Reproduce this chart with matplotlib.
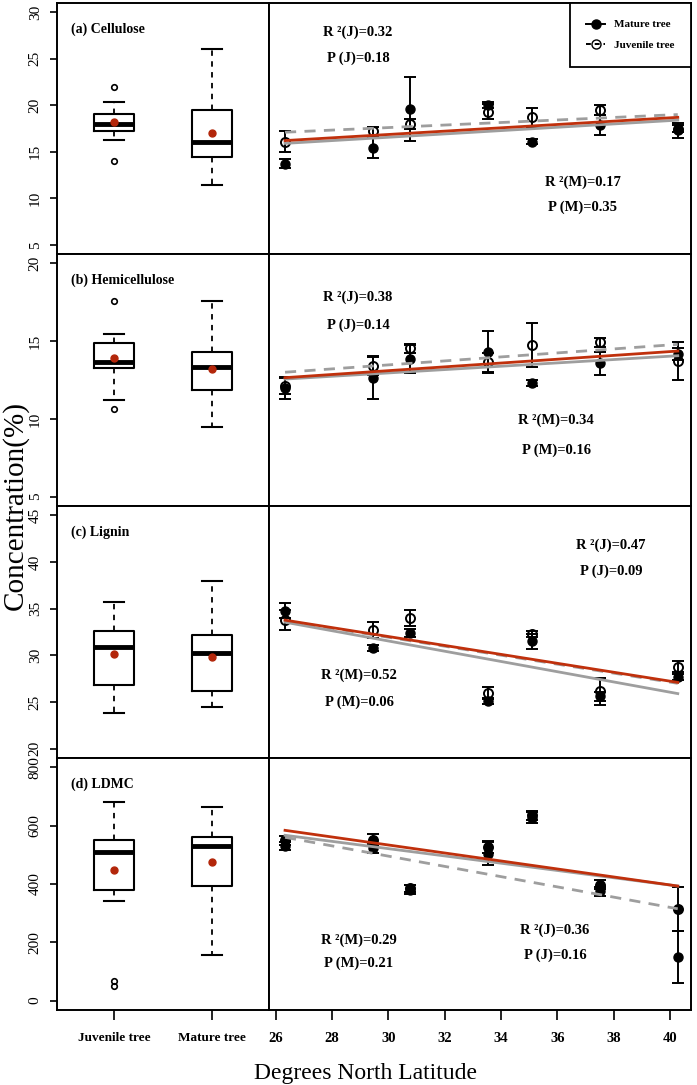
import matplotlib.pyplot as plt
from matplotlib.lines import Line2D

plt.rcParams['font.family'] = ['Liberation Serif', 'DejaVu Serif']

# ---- data ----
latitude = [26.33, 29.46, 30.77, 33.54, 35.11, 37.5, 40.28]

panel_labels = ["(a) Cellulose", "(b) Hemicellulose", "(c) Lignin", "(d) LDMC"]
y_limits = [(4, 31), (4.4, 20.6), (19, 46), (-32, 832)]
y_ticks = [
    [5, 10, 15, 20, 25, 30],
    [5, 10, 15, 20],
    [20, 25, 30, 35, 40, 45],
    [0, 200, 400, 600, 800],
]

mature_a = [13.7, 15.4, 19.6, 20.0, 16.1, 17.9, 17.3]
mature_err_a = [0.5, 1.1, 3.4, 0.3, 0.3, 1.1, 0.8]
juvenile_a = [16.1, 17.2, 18.0, 19.3, 18.7, 19.5, 17.5]
juvenile_err_a = [1.1, 0.5, 0.5, 0.8, 1.0, 0.5, 0.4]

mature_b = [12.0, 12.65, 13.85, 14.3, 12.33, 13.57, 14.17]
mature_err_b = [0.7, 1.35, 0.9, 1.33, 0.2, 0.75, 0.4]
juvenile_b = [12.1, 13.42, 14.53, 13.63, 14.74, 14.92, 13.72]
juvenile_err_b = [0.5, 0.6, 0.3, 0.6, 1.4, 0.3, 1.25]

mature_c = [34.8, 30.8, 32.4, 25.1, 31.5, 25.6, 27.7]
mature_err_c = [0.8, 0.3, 0.4, 0.3, 0.8, 0.5, 0.3]
juvenile_c = [33.77, 32.7, 34.0, 25.97, 32.3, 26.15, 28.8]
juvenile_err_c = [1.07, 0.85, 0.9, 0.65, 0.3, 1.45, 0.6]

mature_d = [530, 522, 380, 504, 628, 375, 150]
mature_err_d = [15, 15, 15, 40, 20, 15, 88]
juvenile_d = [550, 550, 385, 527, 635, 398, 315]
juvenile_err_d = [15, 20, 12, 20, 15, 15, 75]

mature_series = [mature_a, mature_b, mature_c, mature_d]
mature_errors = [mature_err_a, mature_err_b, mature_err_c, mature_err_d]
juvenile_series = [juvenile_a, juvenile_b, juvenile_c, juvenile_d]
juvenile_errors = [juvenile_err_a, juvenile_err_b, juvenile_err_c, juvenile_err_d]
juvenile_filled = [False, False, False, True]

# fitted lines, value at first and last latitude
fit_red = [[16.2, 18.7], [12.65, 14.36], [33.77, 27.1], [584, 393]]
fit_grey = [[15.9, 18.4], [12.56, 14.06], [33.55, 25.9], [567, 393]]
fit_dashed = [[17.1, 19.0], [13.0, 14.79], [33.7, 27.0], [560, 315]]

# boxplot summaries: juvenile, mature
box_juv_q1 = [17.18, 13.29, 26.87, 381]
box_juv_med = [17.97, 13.63, 30.87, 509]
box_juv_q3 = [19.08, 14.89, 32.66, 551]
box_juv_lo = [16.22, 11.24, 23.79, 341]
box_juv_hi = [20.4, 15.43, 35.67, 680]
box_juv_mean = [18.15, 13.89, 30.09, 448]
box_juv_out = [[22.0, 14.0], [17.56, 10.62], [], [50, 68]]

box_mat_q1 = [14.47, 11.84, 26.19, 392]
box_mat_med = [16.0, 13.35, 30.23, 529]
box_mat_q3 = [19.5, 14.27, 32.23, 560]
box_mat_lo = [11.45, 9.49, 24.47, 158]
box_mat_hi = [26.0, 17.58, 37.92, 664]
box_mat_mean = [17.0, 13.22, 29.8, 474]
box_mat_out = [[], [], [], []]

group_names = ["Juvenile tree", "Mature tree"]
lat_ticks = [26, 28, 30, 32, 34, 36, 38, 40]

# stats text: (label, x px, y px)
stats_text = [
    [("R ²(J)=0.32", 358, 32), ("P (J)=0.18", 358, 58),
     ("R ²(M)=0.17", 583, 182), ("P (M)=0.35", 583, 207)],
    [("R ²(J)=0.38", 358, 297), ("P (J)=0.14", 358, 325),
     ("R ²(M)=0.34", 556, 420), ("P (M)=0.16", 556, 450)],
    [("R ²(J)=0.47", 611, 545), ("P (J)=0.09", 611, 571),
     ("R ²(M)=0.52", 359, 675), ("P (M)=0.06", 359, 702)],
    [("R ²(M)=0.29", 359, 940), ("P (M)=0.21", 359, 963),
     ("R ²(J)=0.36", 555, 930), ("P (J)=0.16", 555, 955)],
]

# ---- layout (pixels) ----
W, H = 697, 1085
left_x0, left_x1, right_x1 = 57, 269, 691
panel_tops = [3, 254, 506, 758]
panel_bottoms = [254, 506, 758, 1010]

RED = "#c0300c"
MEAN_RED = "#b3260a"
GREY = "#9e9e9e"

fig = plt.figure(figsize=(W / 100, H / 100), dpi=100)


def px_rect(x0, x1, top, bottom):
    return [x0 / W, 1 - bottom / H, (x1 - x0) / W, (bottom - top) / H]


for i in range(4):
    top, bottom = panel_tops[i], panel_bottoms[i]
    axl = fig.add_axes(px_rect(left_x0, left_x1, top, bottom))
    axr = fig.add_axes(px_rect(left_x1, right_x1, top, bottom))

    # -- box plots --
    stats = [
        dict(med=box_juv_med[i], q1=box_juv_q1[i], q3=box_juv_q3[i],
             whislo=box_juv_lo[i], whishi=box_juv_hi[i], fliers=box_juv_out[i]),
        dict(med=box_mat_med[i], q1=box_mat_q1[i], q3=box_mat_q3[i],
             whislo=box_mat_lo[i], whishi=box_mat_hi[i], fliers=box_mat_out[i]),
    ]
    axl.bxp(
        stats, positions=[1, 2], widths=0.4, capwidths=0.2,
        boxprops=dict(color="black", lw=1.5),
        whiskerprops=dict(color="black", lw=1.3, ls=(0, (3, 3))),
        capprops=dict(color="black", lw=1.5),
        medianprops=dict(color="black", lw=3.5, solid_capstyle="butt"),
        flierprops=dict(marker="o", mfc="none", mec="black", ms=4, mew=1.2),
    )
    axl.plot([1, 2], [box_juv_mean[i], box_mat_mean[i]], "o",
             color=MEAN_RED, ms=5, zorder=5)
    axl.set_xlim(0.42, 2.58)
    axl.set_ylim(*y_limits[i])
    axl.set_yticks(y_ticks[i])
    axl.tick_params(axis="y", direction="out", length=5, width=1.2,
                    labelsize=11, pad=6, labelrotation=90)
    for lab in axl.get_yticklabels():
        lab.set_verticalalignment("center")
    axl.text(0.065, 0.895, panel_labels[i], transform=axl.transAxes,
             fontsize=10, fontweight="bold", va="center", ha="left")

    # -- latitude trends --
    axr.errorbar(latitude, mature_series[i], yerr=mature_errors[i], fmt="o",
                 color="black", ms=6.5, capsize=4, elinewidth=1.4,
                 capthick=1.4, zorder=3)
    jfc = "black" if juvenile_filled[i] else "none"
    axr.errorbar(latitude, juvenile_series[i], yerr=juvenile_errors[i],
                 fmt="o", color="black", mfc=jfc, mew=1.4, ms=6.5, capsize=4,
                 elinewidth=1.4, capthick=1.4, zorder=3)
    ends = [latitude[0], latitude[-1]]
    axr.plot(ends, fit_grey[i], color=GREY, lw=2, zorder=4)
    axr.plot(ends, fit_dashed[i], color=GREY, lw=2, ls=(0, (4, 3)), zorder=4)
    axr.plot(ends, fit_red[i], color=RED, lw=2, zorder=5)
    axr.set_xlim(25.76, 40.75)
    axr.set_ylim(*y_limits[i])
    axr.set_yticks([])

    for ax in (axl, axr):
        for sp in ax.spines.values():
            sp.set_linewidth(1.4)

    if i == 3:
        axl.set_xticks([1, 2])
        axl.set_xticklabels(group_names, fontsize=9.5, fontweight="bold")
        axr.set_xticks(lat_ticks)
        axr.set_xticklabels([str(t) for t in lat_ticks], fontsize=10.5,
                            fontweight="bold")
        for ax in (axl, axr):
            ax.tick_params(axis="x", direction="out", length=7, width=1.2,
                           pad=9)
    else:
        axl.set_xticks([])
        axr.set_xticks([])

    for label, x, y in stats_text[i]:
        fig.text(x / W, 1 - y / H, label, fontsize=10.5, fontweight="bold",
                 ha="center", va="center")

    if i == 0:
        handles = [
            Line2D([], [], color="black", marker="o", ms=6.5, lw=1.4),
            Line2D([], [], color="black", marker="o", mfc="none", ms=6.5,
                   lw=1.4, ls=(0, (2.5, 2))),
        ]
        leg = axr.legend(handles, ["Mature tree", "Juvenile tree"],
                         loc="upper right", borderaxespad=0, fancybox=False,
                         framealpha=1, edgecolor="black", handlelength=1.7,
                         labelspacing=1.0, borderpad=1.5, handletextpad=0.8,
                         prop=dict(size=8, weight="bold"))
        leg.get_frame().set_linewidth(1.3)

fig.text(15 / W, 1 - 505 / H, "Concentration(%)", rotation=90,
         fontsize=21, ha="center", va="center")
fig.text(366 / W, 1 - 1073 / H, "Degrees North Latitude", fontsize=17,
         ha="center", va="center")

fig.savefig("out.png", dpi=100)
